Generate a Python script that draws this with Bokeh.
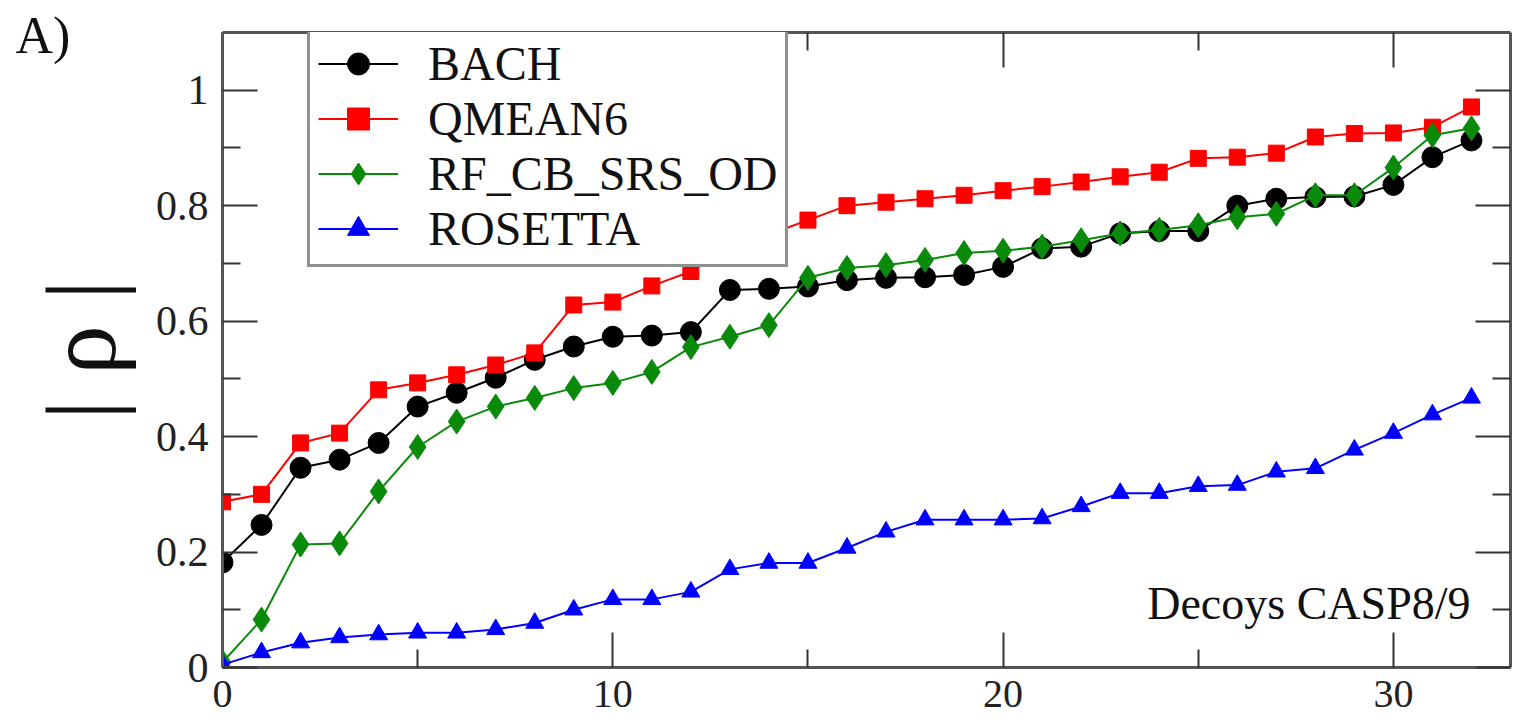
from bokeh.plotting import figure
from bokeh.models import Range1d, LinearAxis, Legend, LegendItem, Label, FixedTicker, Title
from bokeh.embed import file_html
from bokeh.resources import INLINE

x = list(range(33))

bach = [0.182, 0.247, 0.346, 0.36, 0.389, 0.452, 0.476, 0.502, 0.533, 0.556, 0.573, 0.575, 0.581,
        0.654, 0.656, 0.66, 0.671, 0.675, 0.676, 0.68, 0.694, 0.726, 0.729, 0.752, 0.756, 0.756,
        0.80, 0.812, 0.815, 0.816, 0.836, 0.884, 0.913]
qmean6 = [0.287, 0.30, 0.389, 0.406, 0.481, 0.493, 0.507, 0.524, 0.545, 0.628, 0.633, 0.661, 0.686,
          0.725, 0.75, 0.775, 0.80, 0.806, 0.812, 0.818, 0.826, 0.833, 0.841, 0.85, 0.858, 0.882,
          0.884, 0.891, 0.919, 0.925, 0.926, 0.936, 0.971]
rf_cb = [0.009, 0.083, 0.213, 0.215, 0.305, 0.382, 0.426, 0.452, 0.467, 0.484, 0.493, 0.512, 0.555,
         0.573, 0.593, 0.675, 0.692, 0.697, 0.706, 0.718, 0.722, 0.729, 0.74, 0.752, 0.758, 0.766,
         0.78, 0.786, 0.818, 0.818, 0.866, 0.922, 0.934]
rosetta = [0.005, 0.026, 0.043, 0.052, 0.057, 0.06, 0.06, 0.066, 0.077, 0.10, 0.118, 0.118, 0.131,
           0.17, 0.181, 0.181, 0.207, 0.235, 0.256, 0.256, 0.256, 0.258, 0.279, 0.302, 0.302, 0.314,
           0.316, 0.339, 0.345, 0.377, 0.406, 0.438, 0.467]

series_names = ["BACH", "QMEAN6", "RF_CB_SRS_OD", "ROSETTA"]
x_ticks = [0, 10, 20, 30]
y_ticks = [0, 0.2, 0.4, 0.6, 0.8, 1.0]
y_tick_labels = {0: "0", 0.2: "0.2", 0.4: "0.4", 0.6: "0.6", 0.8: "0.8", 1.0: "1"}

FONT = "Liberation Serif"

p = figure(width=1523, height=720, output_backend="svg", toolbar_location=None,
           x_range=Range1d(0, 33), y_range=Range1d(0, 1.1),
           min_border_left=222, min_border_right=13, min_border_top=32, min_border_bottom=53,
           x_axis_location=None, y_axis_location=None)
p.grid.visible = False
p.outline_line_color = None
p.background_fill_color = "white"
p.border_fill_color = "white"

# panel label "A)" drawn as a title that overlaps the frame top
p.title = Title(text="A)", align="left", offset=-207, standoff=-62, vertical_align="bottom",
                text_font=FONT, text_font_size="52px", text_font_style="normal",
                text_color="#111111")

AX_COL = "#555555"


def style_axis(ax, ticks, minor, labels=True, size="40px"):
    ax.ticker = FixedTicker(ticks=ticks, minor_ticks=minor)
    ax.axis_line_color = AX_COL
    ax.axis_line_width = 3
    ax.major_tick_line_color = "#333333"
    ax.major_tick_line_width = 2
    ax.minor_tick_line_color = "#333333"
    ax.minor_tick_line_width = 2
    ax.major_tick_in = 35
    ax.major_tick_out = 0
    ax.minor_tick_in = 18
    ax.minor_tick_out = 0
    ax.major_label_text_font = FONT
    ax.major_label_text_color = "#222222"
    ax.major_label_text_font_size = size
    if labels:
        ax.major_label_standoff = 10
    else:
        ax.major_label_overrides = {t: "" for t in ticks}
        ax.major_label_standoff = 0


xminor = [5, 15, 25]
yminor = [0.1, 0.3, 0.5, 0.7, 0.9]

xb = LinearAxis()
style_axis(xb, x_ticks, xminor, True, "40px")
xb.major_label_standoff = 13
p.add_layout(xb, "below")

xt = LinearAxis()
style_axis(xt, x_ticks, xminor, False, "2px")
p.add_layout(xt, "above")

yl = LinearAxis()
style_axis(yl, y_ticks, yminor, True, "42px")
yl.major_label_overrides = y_tick_labels
yl.major_label_standoff = 14
yl.axis_label = "| ρ |"
yl.axis_label_text_font = FONT
yl.axis_label_text_font_style = "normal"
yl.axis_label_text_font_size = "100px"
yl.axis_label_text_color = "#111111"
yl.axis_label_standoff = 16
p.add_layout(yl, "left")

yr = LinearAxis()
style_axis(yr, y_ticks, yminor, False, "2px")
p.add_layout(yr, "right")

specs = [
    (bach, "circle", "#000000", 21),
    (qmean6, "square", "#ff0000", 16),
    (rf_cb, "diamond", "#0a8a0a", 25),
    (rosetta, "triangle", "#0000ff", 18),
]

items = []
for name, (ys, marker, col, sz) in zip(series_names, specs):
    ln = p.line(x, ys, line_color=col, line_width=2)
    sc = p.scatter(x, ys, marker=marker, size=sz, fill_color=col, line_color=col)
    items.append(LegendItem(label=name, renderers=[ln, sc]))

legend = Legend(items=items, location=(85, 400))
legend.label_text_font = FONT
legend.label_text_font_size = "48px"
legend.label_text_color = "#111111"
legend.label_height = 55
legend.glyph_height = 55
legend.glyph_width = 80
legend.label_standoff = 30
legend.spacing = 0
legend.padding = 8
legend.margin = 0
legend.border_line_color = "#222222"
legend.border_line_width = 3
legend.background_fill_color = "white"
legend.background_fill_alpha = 1.0
p.add_layout(legend, "center")

p.add_layout(Label(x=1248, y=64, x_units="screen", y_units="screen", text="Decoys CASP8/9",
                   text_font=FONT, text_font_size="46px", text_baseline="alphabetic",
                   text_align="right", text_color="#111111"))

open("out.html", "w").write(file_html(p, INLINE))
